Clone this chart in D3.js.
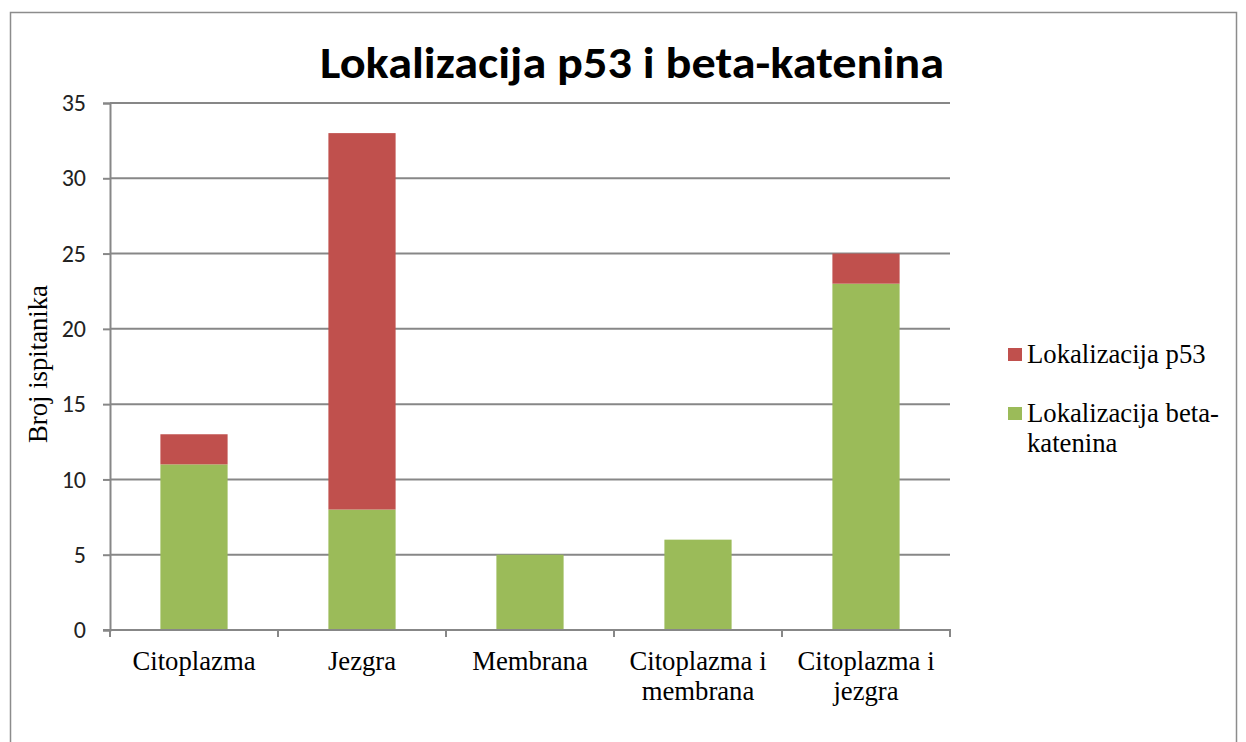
<!DOCTYPE html>
<html>
<head>
<meta charset="utf-8">
<script src="https://cdn.jsdelivr.net/npm/d3@7"></script>
<style>
  body { margin: 0; background: #fff; }
  svg { display: block; }
</style>
</head>
<body>
<svg id="chart" width="1246" height="742"></svg>
<script>
const categories = ['Citoplazma', 'Jezgra', 'Membrana', 'Citoplazma i membrana', 'Citoplazma i jezgra']
const categoryLines = [['Citoplazma'], ['Jezgra'], ['Membrana'], ['Citoplazma i', 'membrana'], ['Citoplazma i', 'jezgra']]
const betaKatenin = [11, 8, 5, 6, 23]
const p53 = [2, 25, 0, 0, 2]
const yTicks = [0, 5, 10, 15, 20, 25, 30, 35]
const seriesNames = ['Lokalizacija p53', 'Lokalizacija beta-katenina']
const colors = { p53: '#C0504D', beta: '#9BBB59' }

const svg = d3.select('#chart')
const plotLeft = 110, plotRight = 950, plotTop = 103, plotBottom = 630
const serif = '"Liberation Serif", "Times New Roman", serif'
const sans = 'Carlito, Calibri, "Open Sans", sans-serif'

// outer frame
svg.append('rect')
  .attr('x', 10.5).attr('y', 12.5)
  .attr('width', 1226).attr('height', 740)
  .attr('fill', 'none').attr('stroke', '#8c8c8c').attr('stroke-width', 1.5)

const x = d3.scaleBand().domain(categories).range([plotLeft, plotRight]).paddingInner(0.6).paddingOuter(0.3)
const xTicks = d3.scaleBand().domain(categories).range([plotLeft, plotRight])
const y = d3.scaleLinear().domain([0, 35]).range([plotBottom, plotTop])

// grid
svg.append('g').selectAll('line')
  .data(yTicks.slice(1))
  .enter().append('line')
  .attr('x1', plotLeft).attr('x2', plotRight)
  .attr('y1', (d) => y(d)).attr('y2', (d) => y(d))
  .attr('stroke', '#878787').attr('stroke-width', 2)

// bars
const rows = categories.map((c, i) => ({ cat: c, beta: betaKatenin[i], p53: p53[i] }))
const stack = d3.stack().keys(['beta', 'p53'])(rows)
svg.append('g').selectAll('g')
  .data(stack)
  .enter().append('g')
  .attr('fill', (s) => colors[s.key])
  .selectAll('rect')
  .data((s) => s.filter((d) => d[1] > d[0]))
  .enter().append('rect')
  .attr('x', (d) => x(d.data.cat))
  .attr('width', x.bandwidth())
  .attr('y', (d) => y(d[1]))
  .attr('height', (d) => y(d[0]) - y(d[1]))

// y axis
const yAxis = svg.append('g').attr('transform', `translate(${plotLeft},0)`)
  .call(d3.axisLeft(y).tickValues(yTicks).tickSize(7).tickPadding(17))
yAxis.select('.domain').attr('stroke', '#878787').attr('stroke-width', 2)
yAxis.selectAll('.tick line').attr('stroke', '#878787').attr('stroke-width', 2)
yAxis.selectAll('.tick text')
  .attr('font-family', sans)
  .attr('font-size', 24).attr('fill', '#222')

// x axis
const xAxisG = svg.append('g').attr('transform', `translate(0,${plotBottom})`)
xAxisG.append('line')
  .attr('x1', plotLeft - 7).attr('x2', plotRight + 1)
  .attr('stroke', '#878787').attr('stroke-width', 2)
xAxisG.selectAll('.xt')
  .data(categories.concat(['end']))
  .enter().append('line')
  .attr('x1', (d, i) => i < categories.length ? xTicks(d) : plotRight)
  .attr('x2', (d, i) => i < categories.length ? xTicks(d) : plotRight)
  .attr('y1', 0).attr('y2', 7)
  .attr('stroke', '#878787').attr('stroke-width', 2)

const labels = svg.append('g').selectAll('text')
  .data(categories)
  .enter().append('text')
  .attr('x', (d) => x(d) + x.bandwidth() / 2)
  .attr('y', 670)
  .attr('text-anchor', 'middle')
  .attr('font-family', serif)
  .attr('font-size', 26.7)
labels.selectAll('tspan')
  .data((d, i) => categoryLines[i])
  .enter().append('tspan')
  .attr('x', function () { return d3.select(this.parentNode).attr('x') })
  .attr('dy', (d, i) => i === 0 ? 0 : 30)
  .text((d) => d)

// y axis title
svg.append('text')
  .attr('transform', 'translate(47,364) rotate(-90)')
  .attr('text-anchor', 'middle')
  .attr('font-family', serif)
  .attr('font-size', 26.7)
  .text('Broj ispitanika')

// title
svg.append('text')
  .attr('x', 632).attr('y', 78)
  .attr('text-anchor', 'middle')
  .attr('font-family', sans)
  .attr('font-weight', 'bold')
  .attr('font-size', 45)
  .attr('textLength', 624)
  .attr('lengthAdjust', 'spacingAndGlyphs')
  .text('Lokalizacija p53 i beta-katenina')

// legend
const legend = svg.append('g')
const legendItems = [
  { key: 'p53', lines: ['Lokalizacija p53'], y: 354 },
  { key: 'beta', lines: ['Lokalizacija beta-', 'katenina'], y: 413 }
]
legendItems.forEach((item, i) => {
  legend.append('rect')
    .attr('x', 1008).attr('y', item.y - 6)
    .attr('width', 14).attr('height', 13)
    .attr('fill', colors[item.key])
  const t = legend.append('text')
    .attr('x', 1027).attr('y', item.y + 9)
    .attr('font-family', serif)
    .attr('font-size', 26.7)
    .attr('data-series', seriesNames[i])
  item.lines.forEach((line, j) => {
    t.append('tspan').attr('x', 1027).attr('dy', j === 0 ? 0 : 30).text(line)
  })
})
</script>
</body>
</html>
